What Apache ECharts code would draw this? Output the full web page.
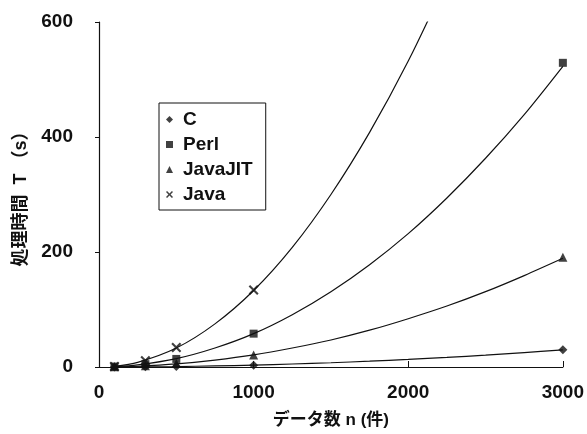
<!DOCTYPE html>
<html><head><meta charset="utf-8">
<script src="https://cdn.jsdelivr.net/npm/echarts@6/dist/echarts.min.js"></script>
<style>html,body{margin:0;padding:0;background:#fff}#c{width:587px;height:434px}</style>
</head><body><div id="c"></div>
<script>
// measured data points: n (records) vs processing time T (s)
var dataN = [100, 300, 500, 1000, 3000];
var timeC = [0.1, 0.5, 1, 3, 30];
var timePerl = [0.8, 5, 14, 58, 529];
var timeJavaJIT = [0.3, 2, 6, 21, 191];
var timeJava = [1, 11, 34, 134, null];

// trend curves, values
var trendN = [100, 250, 500, 750, 1000, 1250, 1500, 1750, 2000, 2250, 2500, 2750, 3000];
var trendC = [0.03, 0.2, 0.8, 1.9, 3.3, 5.2, 7.4, 10.1, 13.2, 16.7, 20.6, 25, 29.7];
var trendPerl = [0.6, 3.6, 14.5, 33, 58, 91, 131, 178, 232, 294, 363, 439, 523];
var trendJavaJIT = [0.2, 1.3, 5.3, 12, 21, 33, 47, 64, 84, 106, 131, 159, 189];
var trendJava = [1.3, 8, 33, 75, 133, 208, 300, 408, 532, 673];

var xTicks = [0, 1000, 2000, 3000];
var yTicks = [0, 200, 400, 600];
var seriesNames = ['C', 'Perl', 'JavaJIT', 'Java'];

var FONT = "'Liberation Sans', 'Noto Sans CJK JP', sans-serif";
var INK = '#111';
var xPath = 'path://M0,1.5 L1.5,0 L5,3.5 L8.5,0 L10,1.5 L6.5,5 L10,8.5 L8.5,10 L5,6.5 L1.5,10 L0,8.5 L3.5,5 Z';
var symbols = ['diamond', 'rect', 'triangle', xPath];
var symSizes = [9, 8, 9, 10];
var pointSets = [timeC, timePerl, timeJavaJIT, timeJava];
var trendSets = [trendC, trendPerl, trendJavaJIT, trendJava];

function pairs(xs, ys) {
  var out = [];
  for (var i = 0; i < ys.length; i++) if (ys[i] != null) out.push([xs[i], ys[i]]);
  return out;
}

var series = [];
for (var k = 0; k < 4; k++) {
  series.push({
    name: seriesNames[k] + '_trend', type: 'line', smooth: 0.3, showSymbol: false, silent: true,
    clip: true, data: pairs(trendN, trendSets[k]),
    lineStyle: { color: INK, width: 1.2 }, itemStyle: { color: INK }, z: 2
  });
  series.push({
    name: seriesNames[k], type: 'scatter', symbol: symbols[k], symbolSize: symSizes[k],
    data: pairs(dataN, pointSets[k]), itemStyle: { color: INK }, z: 3
  });
}

var chart = echarts.init(document.getElementById('c'), null, { renderer: 'canvas' });
chart.setOption({
  animation: false,
  backgroundColor: '#fff',
  textStyle: { fontFamily: FONT, color: INK, fontWeight: 'bold' },
  grid: { left: 99, right: 20, top: 22, bottom: 66, containLabel: false },
  legend: {
    orient: 'vertical', left: 159, top: 103,
    backgroundColor: '#fff', borderColor: INK, borderWidth: 1, borderRadius: 0,
    padding: [7, 13, 6, 7], itemGap: 6, itemWidth: 7, itemHeight: 7,
    textStyle: { fontFamily: FONT, fontSize: 19, fontWeight: 'bold', color: INK, padding: [0, 0, 0, 5] },
    data: seriesNames.map(function (n, i) { return { name: n, icon: symbols[i] }; })
  },
  xAxis: {
    type: 'value', min: 0, max: 3000, interval: 1000,
    name: 'データ数 n (件)', nameLocation: 'middle', nameGap: 45,
    nameTextStyle: { fontFamily: FONT, fontSize: 17, fontWeight: 'bold', color: INK },
    axisLine: { lineStyle: { color: INK, width: 1.2 } },
    axisTick: { inside: true, length: 6, lineStyle: { color: INK } },
    axisLabel: { fontFamily: FONT, fontSize: 19, fontWeight: 'bold', color: INK, margin: 16,
      formatter: function (v) { return xTicks.indexOf(v) >= 0 ? String(v) : ''; } },
    splitLine: { show: false }
  },
  yAxis: {
    type: 'value', min: 0, max: 600, interval: 200,
    name: '処理時間  T （s）', nameLocation: 'middle', nameGap: 67, nameRotate: 90,
    nameTextStyle: { fontFamily: FONT, fontSize: 18, fontWeight: 'bold', color: INK },
    axisLine: { show: true, lineStyle: { color: INK, width: 1.2 } },
    axisTick: { show: true, inside: false, length: 4, lineStyle: { color: INK } },
    axisLabel: { fontFamily: FONT, fontSize: 19, fontWeight: 'bold', color: INK, margin: 26,
      formatter: function (v) { return yTicks.indexOf(v) >= 0 ? String(v) : ''; } },
    splitLine: { show: false }
  },
  series: series
});
</script></body></html>
